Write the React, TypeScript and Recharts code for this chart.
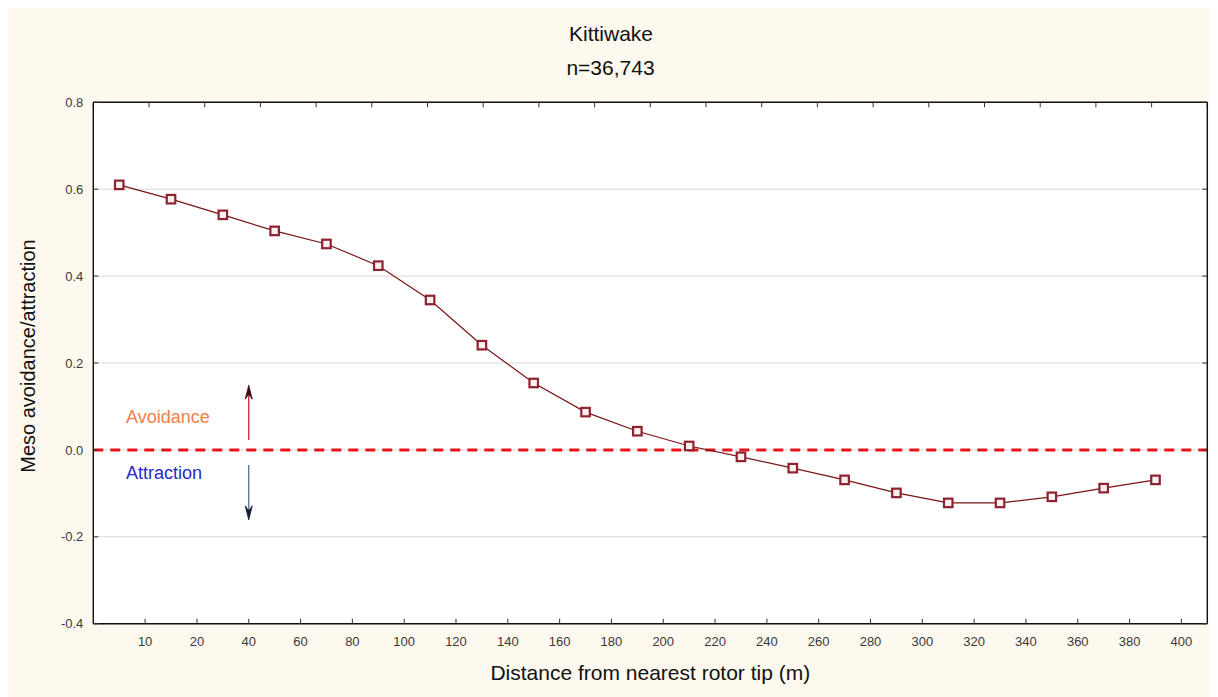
import React from 'react';
import { ComposedChart, Line, XAxis, YAxis, CartesianGrid, ReferenceLine } from 'recharts';

const xTickLabels = ['10', '20', '40', '60', '80', '100', '120', '140', '160', '180', '200', '220', '240', '260', '280', '300', '320', '340', '360', '380', '400'];
const yTicks = [-0.4, -0.2, 0.0, 0.2, 0.4, 0.6, 0.8];
const mesoValues = [0.610, 0.577, 0.541, 0.504, 0.474, 0.424, 0.345, 0.241, 0.154, 0.087, 0.043, 0.009, -0.016, -0.042, -0.069, -0.099, -0.122, -0.122, -0.108, -0.088, -0.069];
const title = 'Kittiwake';
const subtitle = 'n=36,743';
const xLabel = 'Distance from nearest rotor tip (m)';
const yLabel = 'Meso avoidance/attraction';
const avoidanceArrow = [0.023, 0.149];
const attractionArrow = [-0.035, -0.161];
const arrowTickIndex = 2;

const data = mesoValues.map((v, i) => ({ pos: i - 0.5, value: v }));
const tickPositions = xTickLabels.map((_, i) => i);

const FONT = '"Liberation Sans", Arial, sans-serif';

const SquareDot = (props: any) => {
  const { cx, cy, index } = props;
  if (cx == null || cy == null) return null;
  return (
    <g key={`dot-${index}`}>
      <rect x={cx - 4.25} y={cy - 4.25} width={8.5} height={8.5} fill="#fbf1f1" stroke="#8e2230" strokeWidth={2.2} />
    </g>
  );
};

const makeArrow = (lineColor: string, headColor: string) => (props: any) => {
  const { x1, y1, x2, y2 } = props;
  const dir = y2 < y1 ? -1 : 1;
  const hl = 14;
  const hw = 3.5;
  return (
    <g>
      <line x1={x1} y1={y1} x2={x2} y2={y2 - dir * 6} stroke={lineColor} strokeWidth={1.3} />
      <path
        d={`M ${x2} ${y2} L ${x2 - hw} ${y2 - dir * hl} L ${x2} ${y2 - dir * (hl - 5)} L ${x2 + hw} ${y2 - dir * hl} Z`}
        fill={headColor}
        stroke={headColor}
        strokeWidth={0.8}
      />
    </g>
  );
};

export default function App() {
  return (
    <div style={{ position: 'relative', width: 1210, height: 689, marginLeft: -2, background: '#fdf9ee' }}>
      <ComposedChart
        width={1210}
        height={689}
        data={data}
        margin={{ top: 93.3, right: 7.7, bottom: 33.3, left: 27.3 }}
      >
        <CartesianGrid horizontal vertical={false} stroke="#d9d9d9" strokeWidth={1} fill="#ffffff" />
        <XAxis
          type="number"
          dataKey="pos"
          domain={[-1, 20.5]}
          ticks={tickPositions}
          tickFormatter={(v: number) => xTickLabels[v] ?? ''}
          interval={0}
          height={40}
          axisLine={{ stroke: '#111', strokeWidth: 1.4 }}
          tickLine={{ stroke: '#333', strokeWidth: 1 }}
          tickSize={-5}
          tickMargin={18}
          tick={{ fontSize: 13, fill: '#3a3a3a', fontFamily: FONT }}
          allowDataOverflow
        />
        <XAxis
          xAxisId="top"
          orientation="top"
          type="number"
          domain={[-1, 20.5]}
          ticks={tickPositions}
          tickFormatter={() => ''}
          interval={0}
          height={1}
          axisLine={{ stroke: '#111', strokeWidth: 1.4 }}
          tickLine={{ stroke: '#333', strokeWidth: 1 }}
          tickSize={-5}
          allowDataOverflow
        />
        <YAxis
          type="number"
          domain={[-0.4, 0.8]}
          ticks={yTicks}
          tickFormatter={(v: number) => v.toFixed(1)}
          interval={0}
          width={60}
          axisLine={{ stroke: '#111', strokeWidth: 1.4 }}
          tickLine={{ stroke: '#333', strokeWidth: 1 }}
          tickSize={-5}
          tickMargin={15}
          tick={{ fontSize: 13, fill: '#3a3a3a', fontFamily: FONT }}
          allowDataOverflow
        />
        <YAxis
          yAxisId="right"
          orientation="right"
          type="number"
          domain={[-0.4, 0.8]}
          ticks={yTicks}
          tickFormatter={() => ''}
          interval={0}
          width={1}
          axisLine={{ stroke: '#111', strokeWidth: 1.4 }}
          tickLine={{ stroke: '#333', strokeWidth: 1 }}
          tickSize={-5}
          allowDataOverflow
        />
        <ReferenceLine y={0} stroke="#e8141c" strokeWidth={3} strokeDasharray="10 7" />
        <ReferenceLine
          segment={[{ x: arrowTickIndex, y: avoidanceArrow[0] }, { x: arrowTickIndex, y: avoidanceArrow[1] }]}
          shape={makeArrow('#d42626', '#3a0a10')}
        />
        <ReferenceLine
          segment={[{ x: arrowTickIndex, y: attractionArrow[0] }, { x: arrowTickIndex, y: attractionArrow[1] }]}
          shape={makeArrow('#4a6f96', '#0f1a35')}
        />
        <Line
          type="linear"
          dataKey="value"
          stroke="#7a1515"
          strokeWidth={1.2}
          dot={<SquareDot />}
          activeDot={false}
          isAnimationActive={false}
        />
      </ComposedChart>
      <svg
        width={1210}
        height={689}
        style={{ position: 'absolute', left: 0, top: 0, pointerEvents: 'none' }}
      >
        <text x={605} y={33} textAnchor="middle" fontSize={21} fill="#111" fontFamily={FONT}>{title}</text>
        <text x={604.5} y={67} textAnchor="middle" fontSize={21} fill="#111" fontFamily={FONT}>{subtitle}</text>
        <text x={644.3} y={671.5} textAnchor="middle" fontSize={21} fill="#111" fontFamily={FONT}>{xLabel}</text>
        <text x={29} y={348} textAnchor="middle" fontSize={20} fill="#111" fontFamily={FONT} transform="rotate(-90, 29, 348)">{yLabel}</text>
        <text x={120} y={414.7} fontSize={18} fill="#f0804a" fontFamily={FONT}>Avoidance</text>
        <text x={120} y={471} fontSize={18} fill="#2828cc" fontFamily={FONT}>Attraction</text>
      </svg>
    </div>
  );
}
